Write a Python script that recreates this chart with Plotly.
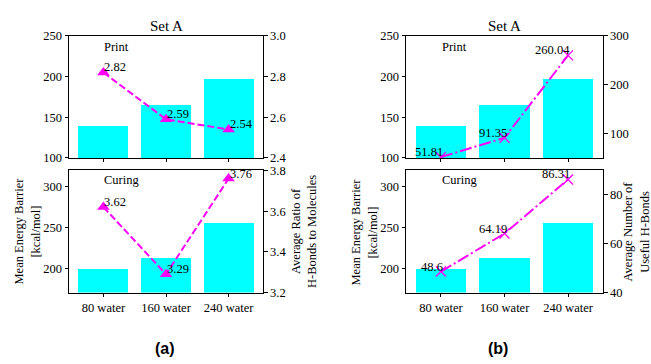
import plotly.graph_objects as go

categories = ["80 water", "160 water", "240 water"]
bar_print = [139, 165, 197]
bar_curing = [198.5, 212, 255.5]
ratio_print = [2.82, 2.59, 2.54]
ratio_curing = [3.62, 3.29, 3.76]
useful_print = [51.81, 91.35, 260.04]
useful_curing = [48.6, 64.19, 86.31]

W, H = 651, 364
SERIF = "Liberation Serif"
FS = 12.5
CYAN = "#00FFFF"
MAG = "#FF00FF"
DASH = "7px,3px"
DASHDOT = "12px,3px,2px,3px"

def px_x(p):
    return p / W

def px_y(p):
    return 1 - p / H

xa_dom = [px_x(69), px_x(263)]
xb_dom = [px_x(406), px_x(603)]
top_dom = [px_y(157), px_y(30)]
bot_dom = [px_y(297), px_y(170)]

xs = list(range(len(categories)))
fig = go.Figure()

panels = [
    (1, 1, 2, bar_print, ratio_print, DASH, "triangle-up", [2.4, 3.0], [2.4, 2.6, 2.8, 3.0], [100, 250], [100, 150, 200, 250], "left"),
    (2, 3, 4, bar_curing, ratio_curing, DASH, "triangle-up", [3.2, 3.8], [3.2, 3.4, 3.6, 3.8], [170, 320], [200, 250, 300], "left"),
    (3, 5, 6, bar_print, useful_print, DASHDOT, "x-thin", [50, 300], [100, 200, 300], [100, 250], [100, 150, 200, 250], "right"),
    (4, 7, 8, bar_curing, useful_curing, DASHDOT, "x-thin", [40, 90], [40, 60, 80], [170, 320], [200, 250, 300], "right"),
]

def axname(prefix, i):
    return prefix if i == 1 else f"{prefix}{i}"

layout = {}
annotations = []
for (xi, yl, yr, bars, line, dash, sym, rrange, rticks, lrange, lticks, side) in panels:
    xn = axname("x", xi)
    yln = axname("y", yl)
    yrn = axname("y", yr)
    fig.add_trace(go.Bar(x=xs, y=bars, width=0.8, marker=dict(color=CYAN, line=dict(width=0)),
                         xaxis=xn, yaxis=yln, showlegend=False, base=0))
    if sym == "triangle-up":
        mk = dict(symbol=sym, size=11, color=MAG, line=dict(width=0))
    else:
        mk = dict(symbol=sym, size=10, color=MAG, line=dict(width=1.3, color=MAG))
    fig.add_trace(go.Scatter(x=xs, y=line, mode="lines+markers",
                             line=dict(color=MAG, width=2, dash=dash), marker=mk,
                             xaxis=xn, yaxis=yrn, showlegend=False))
    for x, v in zip(xs, line):
        if side == "left":
            annotations.append(dict(x=x, y=v, xref=xn, yref=yrn, text=f"{v:.2f}", showarrow=False,
                                    xanchor="left", yanchor="bottom", yshift=-4, xshift=-1,
                                    font=dict(family=SERIF, size=FS, color="black")))
        else:
            annotations.append(dict(x=x, y=v, xref=xn, yref=yrn, text=f"{v:g}",
                                    showarrow=False, xanchor="right", yanchor="bottom", yshift=-4, xshift=4,
                                    font=dict(family=SERIF, size=FS, color="black")))
    top = xi in (1, 3)
    xdom = xa_dom if xi in (1, 2) else xb_dom
    ydom = top_dom if top else bot_dom
    layout[axname("xaxis", xi)] = dict(
        domain=xdom, anchor=yln, range=[-0.55, 2.55], tickvals=xs, ticktext=categories,
        showticklabels=not top, ticks="outside", ticklen=3.5, tickwidth=0.8, tickcolor="black",
        showline=True, mirror=True, linecolor="black", linewidth=1, showgrid=False, zeroline=False,
        tickfont=dict(family=SERIF, size=FS, color="black"))
    layout[axname("yaxis", yl)] = dict(
        domain=ydom, anchor=xn, range=lrange, tickvals=lticks, ticks="outside", ticklen=3.5,
        tickwidth=0.8, tickcolor="black", showline=True, linecolor="black", linewidth=1,
        showgrid=False, zeroline=False, tickfont=dict(family=SERIF, size=FS, color="black"))
    layout[axname("yaxis", yr)] = dict(
        overlaying=yln, anchor=xn, side="right", range=rrange, tickvals=rticks,
        tickformat=".1f" if side == "left" else "d",
        ticks="outside", ticklen=3.5, tickwidth=0.8, tickcolor="black", showline=True,
        linecolor="black", linewidth=1, showgrid=False, zeroline=False,
        tickfont=dict(family=SERIF, size=FS, color="black"))
    annotations.append(dict(x=0, y=230 if top else 302, xref=xn, yref=yln,
                            text="Print" if top else "Curing", showarrow=False,
                            xanchor="left", yanchor="bottom", yshift=-4, xshift=-1,
                            font=dict(family=SERIF, size=FS, color="black")))

for dom in (xa_dom, xb_dom):
    annotations.append(dict(x=(dom[0] + dom[1]) / 2, y=px_y(20), xref="paper", yref="paper",
                            text="Set A", showarrow=False, xanchor="center", yanchor="middle",
                            font=dict(family=SERIF, size=15, color="black")))

ylabels = [
    (27, "Mean Energy Barrier<br>[kcal/mol]"),
    (303.5, "Average Ratio of<br>H-Bonds to Molecules"),
    (364, "Mean Energy Barrier<br>[kcal/mol]"),
    (636, "Average Number of<br>Useful H-Bonds"),
]
for xp, t in ylabels:
    annotations.append(dict(x=px_x(xp), y=px_y(233.5), xref="paper", yref="paper", text=t,
                            showarrow=False, textangle=-90, xanchor="center", yanchor="middle",
                            font=dict(family=SERIF, size=FS, color="black")))

for xp, t in ((164.5, "(a)"), (497.5, "(b)")):
    annotations.append(dict(x=px_x(xp), y=px_y(355), xref="paper", yref="paper", text=f"<b>{t}</b>",
                            showarrow=False, xanchor="center", yanchor="middle",
                            font=dict(family="Liberation Sans", size=16, color="black")))

fig.update_layout(width=W, height=H, margin=dict(l=0, r=0, t=0, b=0),
                  paper_bgcolor="white", plot_bgcolor="white", bargap=0,
                  annotations=annotations, showlegend=False, **layout)

fig.write_html("out.html", config={"displayModeBar": False},
               post_script="document.body.style.margin='0';document.body.style.overflow='hidden';")
